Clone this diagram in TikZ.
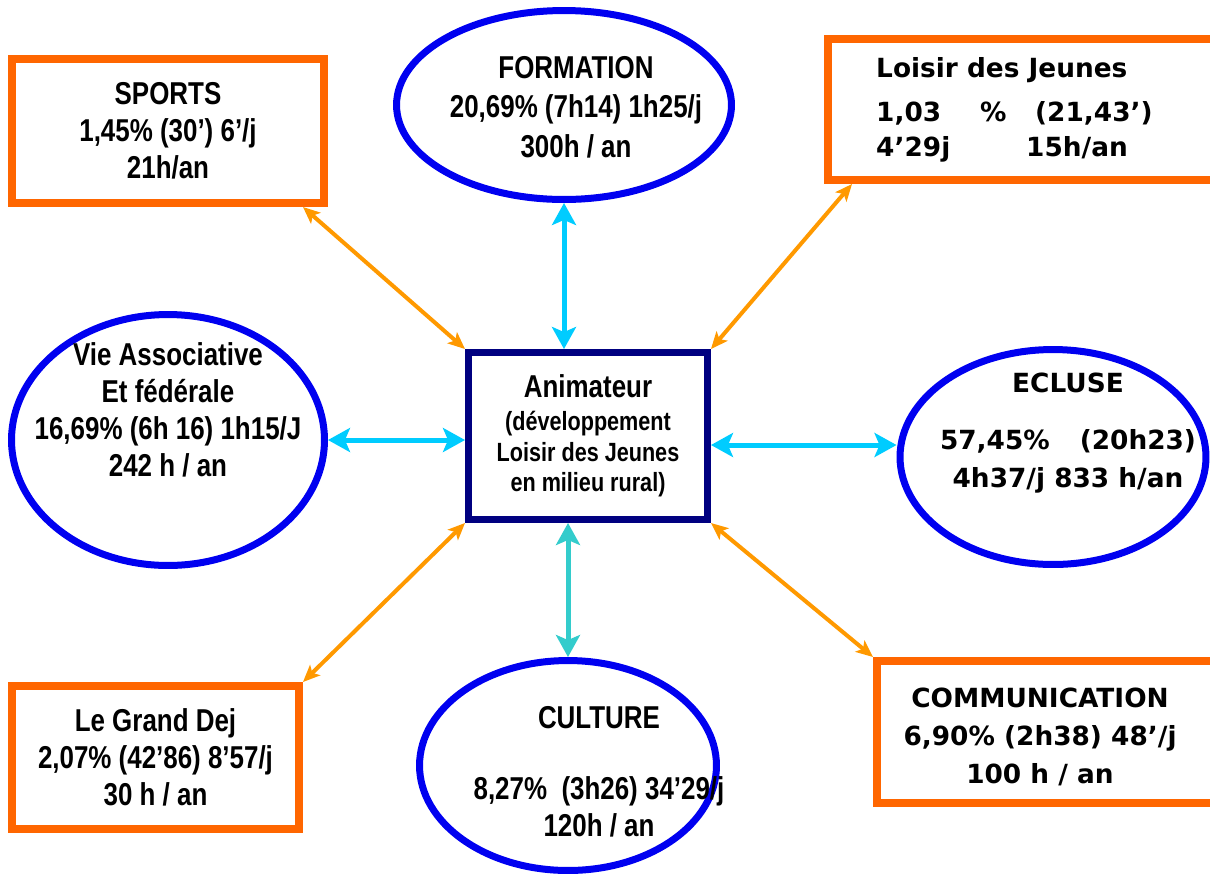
\documentclass[tikz,border=0pt]{standalone}
\usepackage{fontspec}
\usetikzlibrary{arrows.meta,shapes.geometric}
\newfontfamily\arialn{Liberation Sans}[FakeStretch=0.82]
\newfontfamily\comic{DejaVu Sans}
\definecolor{boxorange}{HTML}{FF6600}
\definecolor{arrorange}{HTML}{FF9900}
\definecolor{ellblue}{HTML}{0000F0}
\definecolor{navy}{HTML}{000080}
\definecolor{flecheblue}{HTML}{00CCFF}
\definecolor{turquoise}{HTML}{33CCCC}

\begin{document}
\begin{tikzpicture}[x=0.02cm,y=-0.02cm,
    cadre/.style={draw=boxorange,line width=0.16cm,fill=white,inner sep=0pt},
    bulle/.style={draw=ellblue,ellipse,line width=0.14cm,inner sep=0pt},
    txt/.style={font=\arialn\bfseries\fontsize{18pt}{21pt}\selectfont,align=center},
    ctxt/.style={font=\comic\bfseries\fontsize{15pt}{21.6pt}\selectfont},
    lien/.style={arrorange,line width=0.08cm,>={Stealth[length=0.34cm,width=0.29cm,inset=0.08cm]},<->},
    axe/.style={line width=0.1cm,>={Stealth[length=0.44cm,width=0.48cm,inset=0.1cm]},<->}]
\useasboundingbox (0,0) rectangle (1210,877);

\node[cadre,txt,minimum width=6.24cm,minimum height=2.88cm] (sports) at (168,131)
    {SPORTS\\1,45\% (30’) 6’/j\\21h/an};

\node[bulle,minimum width=6.7cm,minimum height=3.78cm] (form) at (564,105) {};
\node[txt] (form-t) at (576,107) {FORMATION\\[1.5pt]20,69\% (7h14) 1h25/j\\[1.5pt]300h / an};

\node[cadre,minimum width=7.76cm,minimum height=2.82cm] (loisir) at (1022,109.5) {};
\node[ctxt,align=left,anchor=west] (loisir-t) at (870,110)
    {Loisir des Jeunes\\[3.4pt]\makebox[2.08cm][l]{1,03}\makebox[1.1cm][l]{\%}(21,43’)\\[-1.7pt]\makebox[3cm][l]{4’29j}15h/an};

\node[bulle,minimum width=6.26cm,minimum height=5.02cm] (vie) at (168,440) {};
\node[txt] (vie-t) at (168,410) {Vie Associative\\Et fédérale\\16,69\% (6h 16) 1h15/J\\242 h / an};

\node[draw=navy,line width=0.14cm,fill=white,inner sep=0pt,minimum width=4.78cm,minimum height=3.34cm,
    align=center,font=\arialn\bfseries\fontsize{15pt}{17.6pt}\selectfont] (anim) at (588,436)
    {{\fontsize{18pt}{21pt}\selectfont Animateur}\\[1pt](développement\\Loisir des Jeunes\\en milieu rural)};

\node[bulle,minimum width=6.12cm,minimum height=4.3cm] (ecl) at (1053,457) {};
\node[ctxt,align=center] (ecl-t) at (1068,433) {ECLUSE\\[0.38cm]57,45\%\hspace{0.6cm}(20h23)\\4h37/j 833 h/an};

\node[cadre,txt,minimum width=5.74cm,minimum height=2.86cm] (dej) at (155.5,757.5)
    {Le Grand Dej\\2,07\% (42’86) 8’57/j\\30 h / an};

\node[bulle,minimum width=5.94cm,minimum height=4.2cm] (cult) at (568,765.5) {};
\node[txt] (cult-t) at (599,772) {CULTURE\\[0.68cm]8,27\%\ \ (3h26) 34’29/j\\120h / an};

\node[cadre,minimum width=6.78cm,minimum height=2.84cm] (comm) at (1046.5,732) {};
\node[ctxt,align=center] (comm-t) at (1040,737) {COMMUNICATION\\6,90\% (2h38) 48’/j\\100 h / an};

\draw[lien] ([xshift=-0.5cm]sports.south east) -- (anim.north west);
\draw[lien] ([xshift=0.56cm]loisir.south west) -- (anim.north east);
\draw[lien] (dej.north east) -- (anim.south west);
\draw[lien] (comm.north west) -- (anim.south east);

\draw[axe,flecheblue] (form.south) -- (form.south |- anim.north);
\draw[axe,flecheblue] (vie.east) -- (vie.east -| anim.west);
\draw[axe,flecheblue] ([yshift=0.24cm]ecl.west) -- ([yshift=0.24cm]ecl.west -| anim.east);
\draw[axe,turquoise] (cult.north) -- (cult.north |- anim.south);

\end{tikzpicture}
\end{document}
